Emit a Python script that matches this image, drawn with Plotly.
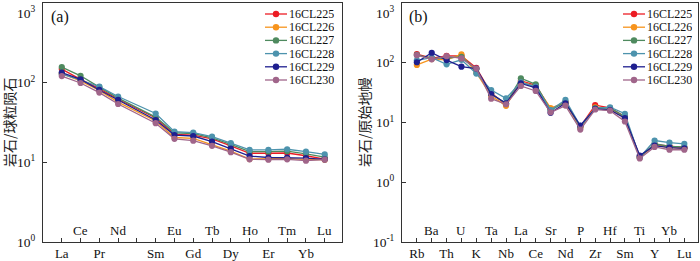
import plotly.graph_objects as go

# ---------------- data ----------------
samples = ["16CL225", "16CL226", "16CL227", "16CL228", "16CL229", "16CL230"]
colors = ["#ec1c24", "#f7941d", "#4f8a5f", "#4d93ad", "#1f1f8f", "#a0658a"]

ree_elements = ["La", "Ce", "Pr", "Nd", "Pm", "Sm", "Eu", "Gd", "Tb", "Dy", "Ho", "Er", "Tm", "Yb", "Lu"]
ree_lower = ["La", "Pr", "Sm", "Gd", "Dy", "Er", "Yb"]
ree_upper = ["Ce", "Nd", "Eu", "Tb", "Ho", "Tm", "Lu"]

ree_225 = [148, 110, 84, 62, None, 36, 22.5, 22.0, 19.7, 16.1, 13.0, 13.0, 13.1, 12.1, 11.0]
ree_226 = [130, 105, 80, 57, None, 33, 20.5, 20.0, 16.8, 13.8, 11.0, 11.0, 11.2, 10.8, 10.8]
ree_227 = [157, 122, 88, 64, None, 37, 23.5, 23.0, 20.3, 16.8, 13.6, 13.6, 13.8, 12.8, 11.6]
ree_228 = [128, 108, 89, 67, None, 41, 24.3, 23.6, 21.0, 17.4, 14.3, 14.3, 14.6, 13.6, 12.6]
ree_229 = [134, 110, 81, 61, None, 34, 22.0, 21.4, 18.2, 14.9, 12.0, 11.5, 11.5, 11.3, 10.9]
ree_230 = [121, 99, 75, 54, None, 31, 19.7, 18.7, 16.1, 13.4, 10.9, 10.8, 10.9, 10.5, 10.8]

spider_elements = ["Rb", "Ba", "Th", "U", "K", "Ta", "Nb", "La", "Ce", "Sr",
                   "Nd", "P", "Zr", "Hf", "Sm", "Ti", "Y", "Yb", "Lu"]
spider_lower = ["Rb", "Th", "K", "Nb", "Ce", "Nd", "Zr", "Sm", "Y", "Lu"]
spider_upper = ["Ba", "U", "Ta", "La", "Sr", "P", "Hf", "Ti", "Yb"]

sp_225 = [140, 120, 130, 130, 82, 31, 20.0, 50, 42.0, 17.0, 22.0, 8.5, 19.5, 17.5, 12.5, 2.7, 4.3, 4.0, 3.8]
sp_226 = [92, 115, 112, 138, 68, 28, 19.0, 48, 40.0, 17.5, 21.0, 8.2, 18.0, 16.5, 12.0, 2.6, 4.2, 3.8, 3.7]
sp_227 = [135, 118, 120, 125, 78, 30, 21.0, 55, 43.5, 16.0, 22.0, 8.4, 17.5, 17.5, 12.5, 2.6, 4.4, 4.0, 3.9]
sp_228 = [110, 122, 94, 112, 66, 35, 25.4, 47, 40.0, 16.2, 23.9, 8.8, 17.0, 18.0, 14.0, 2.6, 5.0, 4.6, 4.4]
sp_229 = [102, 147, 111, 86, 80, 30, 21.0, 45, 38.0, 14.5, 21.0, 8.9, 16.9, 16.2, 11.8, 2.8, 4.1, 3.8, 3.7]
sp_230 = [134, 114, 129, 118, 80, 25, 20.2, 41, 33.7, 14.8, 19.2, 7.6, 16.5, 15.8, 10.4, 2.5, 3.9, 3.5, 3.5]

ree_series = [ree_225, ree_226, ree_227, ree_228, ree_229, ree_230]
sp_series = [sp_225, sp_226, sp_227, sp_228, sp_229, sp_230]

ya_ticks = [1, 10, 100]
ya_text = ["10<sup>0</sup>", "10<sup>1</sup>", "10<sup>2</sup>"]
yb_ticks = [0.1, 1, 10, 100]
yb_text = ["10<sup>-1</sup>", "10<sup>0</sup>", "10<sup>1</sup>", "10<sup>2</sup>"]
top_label = "10<sup>3</sup>"

title_a = "岩石/球粒陨石"
title_b = "岩石/原始地幔"

# ---------------- figure ----------------
W, H = 700, 261
SERIF = "Liberation Serif"
CJK = "Noto Sans CJK SC"
AX = "#333333"

fig = go.Figure()
xa = list(range(len(ree_elements)))
xb = list(range(len(spider_elements)))

for name, col, ya, yb in zip(samples, colors, ree_series, sp_series):
    fig.add_trace(go.Scatter(x=xa, y=ya, mode="lines+markers", name=name,
                             line=dict(color=col, width=1.3), connectgaps=True,
                             marker=dict(color=col, size=6.2), showlegend=False,
                             xaxis="x", yaxis="y"))
    fig.add_trace(go.Scatter(x=xb, y=yb, mode="lines+markers", name=name,
                             line=dict(color=col, width=1.3),
                             marker=dict(color=col, size=6.2), showlegend=False,
                             xaxis="x2", yaxis="y2"))

dom_y = [(H - 242) / H, (H - 3) / H]
dom_a = [43 / W, 342 / W]
dom_b = [402 / W, 698 / W]

def xaxis(dom, names, lower, anchor):
    n = len(names)
    major = [i for i, e in enumerate(names) if e in lower]
    minor = [i for i, e in enumerate(names) if e not in lower]
    return dict(domain=dom, anchor=anchor, range=[-1.0, n - 1 + 0.92],
                automargin=False,
                tickmode="array",
                tickvals=major,
                ticktext=[names[i] for i in major],
                ticks="inside", ticklen=4, tickcolor=AX, tickwidth=1,
                minor=dict(tickmode="array", tickvals=minor, ticks="inside",
                           ticklen=4, tickcolor=AX, tickwidth=1, showgrid=False),
                showline=True, linecolor=AX, linewidth=1, mirror=True,
                showgrid=False, zeroline=False,
                tickfont=dict(family=SERIF, size=13, color="#111"),
                ticklabelstandoff=-1)

def yaxis(dom, rng, tv, tt, anchor):
    return dict(domain=dom, anchor=anchor, type="log", range=rng,
                automargin=False,
                tickmode="array", tickvals=tv, ticktext=tt,
                ticks="inside", ticklen=4, tickcolor=AX, tickwidth=1,
                showline=True, linecolor=AX, linewidth=1, mirror=True,
                showgrid=False, zeroline=False,
                tickfont=dict(family=SERIF, size=13.5, color="#111"),
                ticklabelstandoff=4)

fig.update_layout(
    width=W, height=H, margin=dict(l=0, r=0, t=0, b=0, autoexpand=False),
    paper_bgcolor="white", plot_bgcolor="white", showlegend=False,
    font=dict(family=SERIF),
    xaxis=xaxis(dom_a, ree_elements, ree_lower, "y"),
    yaxis=yaxis(dom_y, [0, 3], ya_ticks, ya_text, "x"),
    xaxis2=xaxis(dom_b, spider_elements, spider_lower, "y2"),
    yaxis2=yaxis(dom_y, [-1, 3], yb_ticks, yb_text, "x2"),
)

annotations = []
# upper-row category labels
upper_y = (H - 230) / H
for i, e in enumerate(ree_elements):
    if e in ree_upper:
        annotations.append(dict(x=i, y=upper_y, xref="x", yref="paper", text=e,
                                showarrow=False, xanchor="center", yanchor="middle",
                                font=dict(family=SERIF, size=13, color="#111")))
for i, e in enumerate(spider_elements):
    if e in spider_upper:
        annotations.append(dict(x=i, y=upper_y, xref="x2", yref="paper", text=e,
                                showarrow=False, xanchor="center", yanchor="middle",
                                font=dict(family=SERIF, size=13, color="#111")))
# top decade labels (kept inside the page)
for xr in [38, 397]:
    annotations.append(dict(x=xr / W, y=(H - 12) / H, xref="paper", yref="paper", text=top_label,
                            showarrow=False, xanchor="right", yanchor="middle",
                            font=dict(family=SERIF, size=13.5, color="#111")))
# panel labels
annotations.append(dict(x=49 / W, y=(H - 17) / H, xref="paper", yref="paper", text="(a)",
                        showarrow=False, xanchor="left", yanchor="middle",
                        font=dict(family=SERIF, size=16, color="#111")))
annotations.append(dict(x=407 / W, y=(H - 17) / H, xref="paper", yref="paper", text="(b)",
                        showarrow=False, xanchor="left", yanchor="middle",
                        font=dict(family=SERIF, size=16, color="#111")))
# y axis titles
annotations.append(dict(x=9 / W, y=(H - 122) / H, xref="paper", yref="paper", text=title_a,
                        showarrow=False, textangle=-90, xanchor="center", yanchor="middle",
                        font=dict(family=CJK, size=14, color="#222")))
annotations.append(dict(x=364 / W, y=(H - 122) / H, xref="paper", yref="paper", text=title_b,
                        showarrow=False, textangle=-90, xanchor="center", yanchor="middle",
                        font=dict(family=CJK, size=14, color="#222")))

# manual compact legends
shapes = []
for (lx0, lx1, tx) in [(265, 287, 288), (623, 645, 646)]:
    for k, (name, col) in enumerate(zip(samples, colors)):
        yy = 14 + 13.2 * k
        py = (H - yy) / H
        shapes.append(dict(type="line", xref="paper", yref="paper",
                           x0=lx0 / W, x1=lx1 / W, y0=py, y1=py,
                           line=dict(color=col, width=1.3)))
        cx = (lx0 + lx1) / 2
        r = 3.2
        shapes.append(dict(type="circle", xref="paper", yref="paper",
                           x0=(cx - r) / W, x1=(cx + r) / W,
                           y0=(H - yy - r) / H, y1=(H - yy + r) / H,
                           fillcolor=col, line=dict(color=col, width=0)))
        annotations.append(dict(x=tx / W, y=py, xref="paper", yref="paper", text=name,
                                showarrow=False, xanchor="left", yanchor="middle",
                                height=12, borderpad=0,
                                font=dict(family=SERIF, size=12, color="#111")))

fig.update_layout(annotations=annotations, shapes=shapes)
fig.write_html("out.html", config={"displayModeBar": False},
               post_script="document.body.style.margin='0';document.body.style.overflow='hidden';")
